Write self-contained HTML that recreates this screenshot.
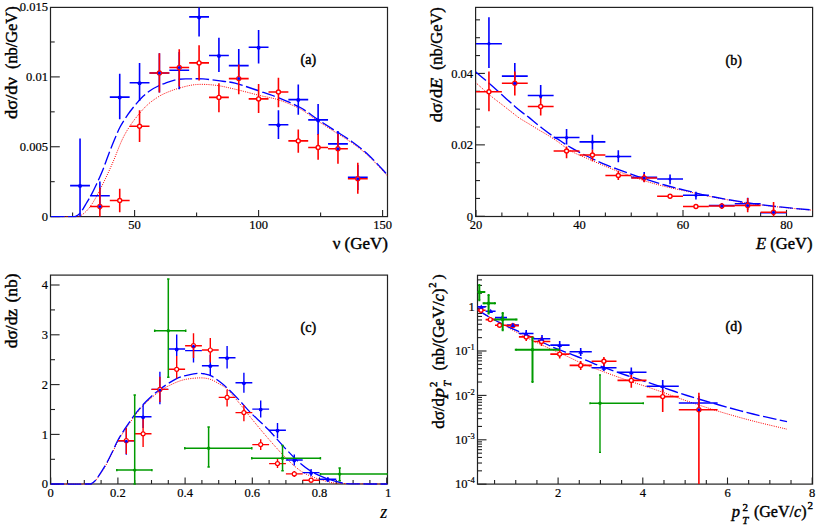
<!DOCTYPE html>
<html><head><meta charset="utf-8"><style>
html,body{margin:0;padding:0;background:#fff;}
svg{display:block;}
text{fill:#000;stroke:#000;stroke-width:0.42px;} text.tl{stroke-width:0.2px;}
</style></head><body>
<svg width="820" height="526" viewBox="0 0 820 526">
<rect width="820" height="526" fill="#fff"/>
<clipPath id="ca"><rect x="50.5" y="7.4" width="337.0" height="210.2"/></clipPath>
<rect x="50.5" y="7.4" width="337.0" height="209.2" fill="none" stroke="#222222" stroke-width="1.2"/>
<line x1="50.50" y1="216.60" x2="59.80" y2="216.60" stroke="#222222" stroke-width="1.1" />
<text x="47.90" y="220.80" font-family="Liberation Serif" font-size="12.5" text-anchor="end" font-weight="normal" font-style="normal"  class="tl">0</text>
<line x1="50.50" y1="146.75" x2="59.80" y2="146.75" stroke="#222222" stroke-width="1.1" />
<text x="47.90" y="150.95" font-family="Liberation Serif" font-size="12.5" text-anchor="end" font-weight="normal" font-style="normal"  class="tl">0.005</text>
<line x1="50.50" y1="76.90" x2="59.80" y2="76.90" stroke="#222222" stroke-width="1.1" />
<text x="47.90" y="81.10" font-family="Liberation Serif" font-size="12.5" text-anchor="end" font-weight="normal" font-style="normal"  class="tl">0.01</text>
<text x="47.90" y="11.25" font-family="Liberation Serif" font-size="12.5" text-anchor="end" font-weight="normal" font-style="normal"  class="tl">0.015</text>
<line x1="50.50" y1="181.67" x2="54.70" y2="181.67" stroke="#222222" stroke-width="1.1" />
<line x1="50.50" y1="111.83" x2="54.70" y2="111.83" stroke="#222222" stroke-width="1.1" />
<line x1="50.50" y1="41.97" x2="54.70" y2="41.97" stroke="#222222" stroke-width="1.1" />
<line x1="134.60" y1="216.60" x2="134.60" y2="210.00" stroke="#222222" stroke-width="1.1" />
<text x="134.60" y="228.60" font-family="Liberation Serif" font-size="12.5" text-anchor="middle" font-weight="normal" font-style="normal"  class="tl">50</text>
<line x1="258.60" y1="216.60" x2="258.60" y2="210.00" stroke="#222222" stroke-width="1.1" />
<text x="258.60" y="228.60" font-family="Liberation Serif" font-size="12.5" text-anchor="middle" font-weight="normal" font-style="normal"  class="tl">100</text>
<line x1="382.60" y1="216.60" x2="382.60" y2="210.00" stroke="#222222" stroke-width="1.1" />
<text x="382.60" y="228.60" font-family="Liberation Serif" font-size="12.5" text-anchor="middle" font-weight="normal" font-style="normal"  class="tl">150</text>
<line x1="72.60" y1="216.60" x2="72.60" y2="212.60" stroke="#222222" stroke-width="1.1" />
<line x1="196.60" y1="216.60" x2="196.60" y2="212.60" stroke="#222222" stroke-width="1.1" />
<line x1="320.60" y1="216.60" x2="320.60" y2="212.60" stroke="#222222" stroke-width="1.1" />
<text x="388.00" y="249.30" font-family="Liberation Serif" font-size="17" text-anchor="end" font-weight="normal" font-style="normal" >ν (GeV)</text>
<g transform="translate(17.4,119.2) rotate(-90)">
<text x="0.20" y="0.00" font-family="Liberation Serif" font-size="17" text-anchor="start" font-weight="normal" font-style="normal" textLength="41.9" lengthAdjust="spacingAndGlyphs">dσ/dν</text>
<text x="50.20" y="0.00" font-family="Liberation Serif" font-size="17" text-anchor="start" font-weight="normal" font-style="normal" textLength="62.6" lengthAdjust="spacingAndGlyphs">(nb/GeV)</text>
</g>
<text x="300.50" y="63.80" font-family="Liberation Serif" font-size="14" text-anchor="start" font-weight="normal" font-style="normal" style="stroke-width:0.45px">(a)</text>
<g clip-path="url(#ca)">
<path d="M51.00,216.60 C55.17,216.60 71.20,216.68 76.00,216.60 C80.80,216.52 78.15,216.93 79.80,216.10 C81.45,215.27 83.87,213.62 85.90,211.60 C87.93,209.58 89.97,207.05 92.00,204.00 C94.03,200.95 95.82,197.62 98.10,193.30 C100.38,188.98 103.17,183.43 105.70,178.10 C108.23,172.77 110.62,167.57 113.30,161.30 C115.98,155.03 119.12,146.25 121.80,140.50 C124.48,134.75 126.62,131.12 129.40,126.80 C132.18,122.48 135.47,118.28 138.50,114.60 C141.53,110.92 144.55,107.50 147.60,104.70 C150.65,101.90 153.90,99.70 156.80,97.80 C159.70,95.90 161.42,94.87 165.00,93.30 C168.58,91.73 173.20,89.85 178.30,88.40 C183.40,86.95 189.48,85.13 195.60,84.60 C201.72,84.07 208.43,84.43 215.00,85.20 C221.57,85.97 227.53,87.48 235.00,89.20 C242.47,90.92 252.47,93.70 259.80,95.50 C267.13,97.30 272.25,97.75 279.00,100.00 C285.75,102.25 293.95,105.58 300.30,109.00 C306.65,112.42 311.45,116.75 317.10,120.50 C322.75,124.25 328.48,127.83 334.20,131.50 C339.92,135.17 345.68,138.42 351.40,142.50 C357.12,146.58 362.47,150.42 368.50,156.00 C374.53,161.58 384.42,172.67 387.60,176.00" fill="none" stroke="#ff0000" stroke-width="1.0" stroke-dasharray="1 1.2" stroke-linecap="butt"/>
<path d="M51.00,216.60 C54.65,216.60 68.73,216.68 72.90,216.60 C77.07,216.52 74.85,216.62 76.00,216.10 C77.15,215.58 78.67,214.63 79.80,213.50 C80.93,212.37 81.68,211.05 82.80,209.30 C83.92,207.55 85.22,205.17 86.50,203.00 C87.78,200.83 88.83,199.43 90.50,196.30 C92.17,193.17 94.48,188.50 96.50,184.20 C98.52,179.90 100.68,175.20 102.60,170.50 C104.52,165.80 106.08,161.00 108.00,156.00 C109.92,151.00 112.07,145.37 114.10,140.50 C116.13,135.63 117.92,131.12 120.20,126.80 C122.48,122.48 125.25,118.28 127.80,114.60 C130.35,110.92 132.95,107.75 135.50,104.70 C138.05,101.65 140.57,98.72 143.10,96.30 C145.63,93.88 148.17,91.92 150.70,90.20 C153.23,88.48 155.92,87.15 158.30,86.00 C160.68,84.85 161.90,84.38 165.00,83.30 C168.10,82.22 172.92,80.23 176.90,79.50 C180.88,78.77 184.55,79.00 188.90,78.90 C193.25,78.80 198.12,78.60 203.00,78.90 C207.88,79.20 212.87,79.98 218.20,80.70 C223.53,81.42 228.07,81.45 235.00,83.20 C241.93,84.95 252.47,88.73 259.80,91.20 C267.13,93.67 272.25,95.28 279.00,98.00 C285.75,100.72 293.95,104.00 300.30,107.50 C306.65,111.00 311.45,115.23 317.10,119.00 C322.75,122.77 328.48,126.40 334.20,130.10 C339.92,133.80 345.68,137.07 351.40,141.20 C357.12,145.33 362.47,149.27 368.50,154.90 C374.53,160.53 384.42,171.65 387.60,175.00" fill="none" stroke="#0000ff" stroke-width="1.35" stroke-dasharray="13.5 3.5" stroke-linecap="butt"/>
<line x1="70.12" y1="185.60" x2="89.96" y2="185.60" stroke="#0000ff" stroke-width="1.6" />
<line x1="80.04" y1="138.60" x2="80.04" y2="216.60" stroke="#0000ff" stroke-width="1.6" />
<line x1="89.96" y1="195.70" x2="109.80" y2="195.70" stroke="#0000ff" stroke-width="1.6" />
<line x1="99.88" y1="181.40" x2="99.88" y2="210.00" stroke="#0000ff" stroke-width="1.6" />
<line x1="109.80" y1="97.10" x2="129.64" y2="97.10" stroke="#0000ff" stroke-width="1.6" />
<line x1="119.72" y1="73.70" x2="119.72" y2="119.30" stroke="#0000ff" stroke-width="1.6" />
<line x1="129.64" y1="82.80" x2="149.48" y2="82.80" stroke="#0000ff" stroke-width="1.6" />
<line x1="139.56" y1="63.00" x2="139.56" y2="101.00" stroke="#0000ff" stroke-width="1.6" />
<line x1="149.48" y1="73.00" x2="169.32" y2="73.00" stroke="#0000ff" stroke-width="1.6" />
<line x1="159.40" y1="53.30" x2="159.40" y2="92.60" stroke="#0000ff" stroke-width="1.6" />
<line x1="169.32" y1="70.30" x2="189.16" y2="70.30" stroke="#0000ff" stroke-width="1.6" />
<line x1="179.24" y1="52.00" x2="179.24" y2="89.20" stroke="#0000ff" stroke-width="1.6" />
<line x1="189.16" y1="16.90" x2="209.00" y2="16.90" stroke="#0000ff" stroke-width="1.6" />
<line x1="199.08" y1="5.00" x2="199.08" y2="36.60" stroke="#0000ff" stroke-width="1.6" />
<line x1="209.00" y1="55.50" x2="228.84" y2="55.50" stroke="#0000ff" stroke-width="1.6" />
<line x1="218.92" y1="37.80" x2="218.92" y2="72.10" stroke="#0000ff" stroke-width="1.6" />
<line x1="228.84" y1="65.60" x2="248.68" y2="65.60" stroke="#0000ff" stroke-width="1.6" />
<line x1="238.76" y1="49.00" x2="238.76" y2="80.00" stroke="#0000ff" stroke-width="1.6" />
<line x1="248.68" y1="47.20" x2="268.52" y2="47.20" stroke="#0000ff" stroke-width="1.6" />
<line x1="258.60" y1="30.10" x2="258.60" y2="63.50" stroke="#0000ff" stroke-width="1.6" />
<line x1="268.52" y1="124.80" x2="288.36" y2="124.80" stroke="#0000ff" stroke-width="1.6" />
<line x1="278.44" y1="110.20" x2="278.44" y2="139.10" stroke="#0000ff" stroke-width="1.6" />
<line x1="288.36" y1="99.60" x2="308.20" y2="99.60" stroke="#0000ff" stroke-width="1.6" />
<line x1="298.28" y1="84.40" x2="298.28" y2="114.80" stroke="#0000ff" stroke-width="1.6" />
<line x1="308.20" y1="119.90" x2="328.04" y2="119.90" stroke="#0000ff" stroke-width="1.6" />
<line x1="318.12" y1="104.00" x2="318.12" y2="134.90" stroke="#0000ff" stroke-width="1.6" />
<line x1="328.04" y1="143.90" x2="347.88" y2="143.90" stroke="#0000ff" stroke-width="1.6" />
<line x1="337.96" y1="130.90" x2="337.96" y2="150.00" stroke="#0000ff" stroke-width="1.6" />
<line x1="347.88" y1="177.20" x2="367.72" y2="177.20" stroke="#0000ff" stroke-width="1.6" />
<line x1="357.80" y1="165.00" x2="357.80" y2="190.00" stroke="#0000ff" stroke-width="1.6" />
<line x1="89.96" y1="206.50" x2="109.80" y2="206.50" stroke="#ff0000" stroke-width="1.6" />
<line x1="99.88" y1="187.80" x2="99.88" y2="216.60" stroke="#ff0000" stroke-width="1.6" />
<line x1="109.80" y1="200.50" x2="129.64" y2="200.50" stroke="#ff0000" stroke-width="1.6" />
<line x1="119.72" y1="188.70" x2="119.72" y2="212.20" stroke="#ff0000" stroke-width="1.6" />
<line x1="129.64" y1="126.30" x2="149.48" y2="126.30" stroke="#ff0000" stroke-width="1.6" />
<line x1="139.56" y1="110.20" x2="139.56" y2="142.10" stroke="#ff0000" stroke-width="1.6" />
<line x1="149.48" y1="73.00" x2="169.32" y2="73.00" stroke="#ff0000" stroke-width="1.6" />
<line x1="159.40" y1="53.30" x2="159.40" y2="92.60" stroke="#ff0000" stroke-width="1.6" />
<line x1="169.32" y1="67.50" x2="189.16" y2="67.50" stroke="#ff0000" stroke-width="1.6" />
<line x1="179.24" y1="49.30" x2="179.24" y2="86.60" stroke="#ff0000" stroke-width="1.6" />
<line x1="189.16" y1="62.90" x2="209.00" y2="62.90" stroke="#ff0000" stroke-width="1.6" />
<line x1="199.08" y1="45.30" x2="199.08" y2="80.60" stroke="#ff0000" stroke-width="1.6" />
<line x1="209.00" y1="97.40" x2="228.84" y2="97.40" stroke="#ff0000" stroke-width="1.6" />
<line x1="218.92" y1="83.20" x2="218.92" y2="112.30" stroke="#ff0000" stroke-width="1.6" />
<line x1="228.84" y1="78.60" x2="248.68" y2="78.60" stroke="#ff0000" stroke-width="1.6" />
<line x1="238.76" y1="64.40" x2="238.76" y2="94.30" stroke="#ff0000" stroke-width="1.6" />
<line x1="248.68" y1="98.90" x2="268.52" y2="98.90" stroke="#ff0000" stroke-width="1.6" />
<line x1="258.60" y1="84.00" x2="258.60" y2="113.10" stroke="#ff0000" stroke-width="1.6" />
<line x1="268.52" y1="92.00" x2="288.36" y2="92.00" stroke="#ff0000" stroke-width="1.6" />
<line x1="278.44" y1="77.70" x2="278.44" y2="107.20" stroke="#ff0000" stroke-width="1.6" />
<line x1="288.36" y1="140.90" x2="308.20" y2="140.90" stroke="#ff0000" stroke-width="1.6" />
<line x1="298.28" y1="129.40" x2="298.28" y2="152.80" stroke="#ff0000" stroke-width="1.6" />
<line x1="308.20" y1="147.50" x2="328.04" y2="147.50" stroke="#ff0000" stroke-width="1.6" />
<line x1="318.12" y1="133.90" x2="318.12" y2="159.80" stroke="#ff0000" stroke-width="1.6" />
<line x1="328.04" y1="148.80" x2="347.88" y2="148.80" stroke="#ff0000" stroke-width="1.6" />
<line x1="337.96" y1="133.90" x2="337.96" y2="163.80" stroke="#ff0000" stroke-width="1.6" />
<line x1="347.88" y1="178.80" x2="367.72" y2="178.80" stroke="#ff0000" stroke-width="1.6" />
<line x1="357.80" y1="162.80" x2="357.80" y2="193.70" stroke="#ff0000" stroke-width="1.6" />
<circle cx="99.88" cy="206.50" r="2.0" fill="#fff" stroke="#ff0000" stroke-width="1.4"/>
<circle cx="119.72" cy="200.50" r="2.0" fill="#fff" stroke="#ff0000" stroke-width="1.4"/>
<circle cx="139.56" cy="126.30" r="2.0" fill="#fff" stroke="#ff0000" stroke-width="1.4"/>
<circle cx="159.40" cy="73.00" r="2.0" fill="#fff" stroke="#ff0000" stroke-width="1.4"/>
<circle cx="179.24" cy="67.50" r="2.0" fill="#fff" stroke="#ff0000" stroke-width="1.4"/>
<circle cx="199.08" cy="62.90" r="2.0" fill="#fff" stroke="#ff0000" stroke-width="1.4"/>
<circle cx="218.92" cy="97.40" r="2.0" fill="#fff" stroke="#ff0000" stroke-width="1.4"/>
<circle cx="238.76" cy="78.60" r="2.0" fill="#fff" stroke="#ff0000" stroke-width="1.4"/>
<circle cx="258.60" cy="98.90" r="2.0" fill="#fff" stroke="#ff0000" stroke-width="1.4"/>
<circle cx="278.44" cy="92.00" r="2.0" fill="#fff" stroke="#ff0000" stroke-width="1.4"/>
<circle cx="298.28" cy="140.90" r="2.0" fill="#fff" stroke="#ff0000" stroke-width="1.4"/>
<circle cx="318.12" cy="147.50" r="2.0" fill="#fff" stroke="#ff0000" stroke-width="1.4"/>
<circle cx="337.96" cy="148.80" r="2.0" fill="#fff" stroke="#ff0000" stroke-width="1.4"/>
<circle cx="357.80" cy="178.80" r="2.0" fill="#fff" stroke="#ff0000" stroke-width="1.4"/>
<circle cx="80.04" cy="186.10" r="2.0" fill="#0000ff"/>
<circle cx="99.88" cy="206.50" r="1.5" fill="#0000ff"/>
<circle cx="119.72" cy="97.60" r="2.0" fill="#0000ff"/>
<circle cx="139.56" cy="83.30" r="2.0" fill="#0000ff"/>
<circle cx="159.40" cy="73.00" r="1.5" fill="#0000ff"/>
<circle cx="179.24" cy="67.50" r="1.5" fill="#0000ff"/>
<circle cx="199.08" cy="17.40" r="2.0" fill="#0000ff"/>
<circle cx="218.92" cy="56.00" r="2.0" fill="#0000ff"/>
<circle cx="238.76" cy="78.60" r="1.5" fill="#0000ff"/>
<circle cx="258.60" cy="47.70" r="2.0" fill="#0000ff"/>
<circle cx="278.44" cy="125.30" r="2.0" fill="#0000ff"/>
<circle cx="298.28" cy="100.10" r="2.0" fill="#0000ff"/>
<circle cx="318.12" cy="120.40" r="2.0" fill="#0000ff"/>
<circle cx="337.96" cy="148.80" r="1.5" fill="#0000ff"/>
<circle cx="357.80" cy="178.80" r="1.5" fill="#0000ff"/>
</g>
<clipPath id="cb"><rect x="475.6" y="7.4" width="337.0" height="210.1"/></clipPath>
<rect x="475.6" y="7.4" width="337.0" height="209.1" fill="none" stroke="#222222" stroke-width="1.2"/>
<line x1="475.60" y1="216.30" x2="484.90" y2="216.30" stroke="#222222" stroke-width="1.1" />
<text x="473.00" y="220.50" font-family="Liberation Serif" font-size="12.5" text-anchor="end" font-weight="normal" font-style="normal"  class="tl">0</text>
<line x1="475.60" y1="144.86" x2="484.90" y2="144.86" stroke="#222222" stroke-width="1.1" />
<text x="473.00" y="149.06" font-family="Liberation Serif" font-size="12.5" text-anchor="end" font-weight="normal" font-style="normal"  class="tl">0.02</text>
<line x1="475.60" y1="73.42" x2="484.90" y2="73.42" stroke="#222222" stroke-width="1.1" />
<text x="473.00" y="77.62" font-family="Liberation Serif" font-size="12.5" text-anchor="end" font-weight="normal" font-style="normal"  class="tl">0.04</text>
<line x1="475.60" y1="198.44" x2="480.00" y2="198.44" stroke="#222222" stroke-width="1.1" />
<line x1="475.60" y1="180.58" x2="480.00" y2="180.58" stroke="#222222" stroke-width="1.1" />
<line x1="475.60" y1="162.72" x2="480.00" y2="162.72" stroke="#222222" stroke-width="1.1" />
<line x1="475.60" y1="127.00" x2="480.00" y2="127.00" stroke="#222222" stroke-width="1.1" />
<line x1="475.60" y1="109.14" x2="480.00" y2="109.14" stroke="#222222" stroke-width="1.1" />
<line x1="475.60" y1="91.28" x2="480.00" y2="91.28" stroke="#222222" stroke-width="1.1" />
<line x1="475.60" y1="55.56" x2="480.00" y2="55.56" stroke="#222222" stroke-width="1.1" />
<line x1="475.60" y1="37.70" x2="480.00" y2="37.70" stroke="#222222" stroke-width="1.1" />
<line x1="475.60" y1="19.84" x2="480.00" y2="19.84" stroke="#222222" stroke-width="1.1" />
<line x1="476.00" y1="216.50" x2="476.00" y2="209.90" stroke="#222222" stroke-width="1.1" />
<text x="476.00" y="229.30" font-family="Liberation Serif" font-size="12.5" text-anchor="middle" font-weight="normal" font-style="normal"  class="tl">20</text>
<line x1="579.50" y1="216.50" x2="579.50" y2="209.90" stroke="#222222" stroke-width="1.1" />
<text x="579.50" y="229.30" font-family="Liberation Serif" font-size="12.5" text-anchor="middle" font-weight="normal" font-style="normal"  class="tl">40</text>
<line x1="683.00" y1="216.50" x2="683.00" y2="209.90" stroke="#222222" stroke-width="1.1" />
<text x="683.00" y="229.30" font-family="Liberation Serif" font-size="12.5" text-anchor="middle" font-weight="normal" font-style="normal"  class="tl">60</text>
<line x1="786.50" y1="216.50" x2="786.50" y2="209.90" stroke="#222222" stroke-width="1.1" />
<text x="786.50" y="229.30" font-family="Liberation Serif" font-size="12.5" text-anchor="middle" font-weight="normal" font-style="normal"  class="tl">80</text>
<line x1="501.88" y1="216.50" x2="501.88" y2="212.50" stroke="#222222" stroke-width="1.1" />
<line x1="527.75" y1="216.50" x2="527.75" y2="212.50" stroke="#222222" stroke-width="1.1" />
<line x1="553.62" y1="216.50" x2="553.62" y2="212.50" stroke="#222222" stroke-width="1.1" />
<line x1="605.38" y1="216.50" x2="605.38" y2="212.50" stroke="#222222" stroke-width="1.1" />
<line x1="631.25" y1="216.50" x2="631.25" y2="212.50" stroke="#222222" stroke-width="1.1" />
<line x1="657.12" y1="216.50" x2="657.12" y2="212.50" stroke="#222222" stroke-width="1.1" />
<line x1="708.88" y1="216.50" x2="708.88" y2="212.50" stroke="#222222" stroke-width="1.1" />
<line x1="734.75" y1="216.50" x2="734.75" y2="212.50" stroke="#222222" stroke-width="1.1" />
<line x1="760.62" y1="216.50" x2="760.62" y2="212.50" stroke="#222222" stroke-width="1.1" />
<text x="812.50" y="249.20" font-family="Liberation Serif" font-size="17" text-anchor="end" font-weight="normal" font-style="normal" textLength="56.4" lengthAdjust="spacingAndGlyphs"><tspan font-style="italic">E</tspan> (GeV)</text>
<g transform="translate(442.2,122.3) rotate(-90)">
<text x="0.00" y="0.00" font-family="Liberation Serif" font-size="17" text-anchor="start" font-weight="normal" font-style="normal" textLength="44.6" lengthAdjust="spacingAndGlyphs">dσ/d<tspan font-style="italic">E</tspan></text>
<text x="52.20" y="0.00" font-family="Liberation Serif" font-size="17" text-anchor="start" font-weight="normal" font-style="normal" textLength="62.9" lengthAdjust="spacingAndGlyphs">(nb/GeV)</text>
</g>
<text x="725.50" y="64.50" font-family="Liberation Serif" font-size="14" text-anchor="start" font-weight="normal" font-style="normal" >(b)</text>
<g clip-path="url(#cb)">
<path d="M475.60,82.50 C478.15,84.75 486.42,92.25 490.90,96.00 C495.38,99.75 498.35,101.77 502.50,105.00 C506.65,108.23 512.88,113.15 515.80,115.40 C518.72,117.65 517.72,117.03 520.00,118.50 C522.28,119.97 526.33,122.28 529.50,124.20 C532.67,126.12 535.83,128.10 539.00,130.00 C542.17,131.90 545.33,133.63 548.50,135.60 C551.67,137.57 555.15,139.82 558.00,141.80 C560.85,143.78 562.88,145.67 565.60,147.50 C568.32,149.33 570.48,150.88 574.30,152.80 C578.12,154.72 583.75,156.93 588.50,159.00 C593.25,161.07 597.88,163.15 602.80,165.20 C607.72,167.25 611.18,168.75 618.00,171.30 C624.82,173.85 635.93,177.98 643.70,180.50 C651.47,183.02 657.63,184.65 664.60,186.40 C671.57,188.15 677.25,189.18 685.50,191.00 C693.75,192.82 703.63,195.27 714.10,197.30 C724.57,199.33 736.92,201.52 748.30,203.20 C759.68,204.88 771.68,206.23 782.40,207.40 C793.12,208.57 807.57,209.73 812.60,210.20" fill="none" stroke="#ff0000" stroke-width="1.0" stroke-dasharray="1 1.2" stroke-linecap="butt"/>
<path d="M475.60,71.80 C477.72,73.60 483.97,78.82 488.30,82.60 C492.63,86.38 497.17,90.53 501.60,94.50 C506.03,98.47 511.17,103.18 514.90,106.40 C518.63,109.62 521.72,112.02 524.00,113.80 C526.28,115.58 525.62,114.73 528.60,117.10 C531.58,119.47 537.63,124.67 541.90,128.00 C546.17,131.33 551.35,135.12 554.20,137.10 C557.05,139.08 556.28,138.18 559.00,139.90 C561.72,141.62 566.05,144.80 570.50,147.40 C574.95,150.00 580.48,152.88 585.70,155.50 C590.92,158.12 596.42,160.78 601.80,163.10 C607.18,165.42 611.02,166.83 618.00,169.40 C624.98,171.97 635.93,175.90 643.70,178.50 C651.47,181.10 657.63,183.02 664.60,185.00 C671.57,186.98 677.25,188.40 685.50,190.40 C693.75,192.40 703.63,194.92 714.10,197.00 C724.57,199.08 736.92,201.20 748.30,202.90 C759.68,204.60 771.68,206.02 782.40,207.20 C793.12,208.38 807.57,209.53 812.60,210.00" fill="none" stroke="#0000ff" stroke-width="1.35" stroke-dasharray="13.5 3.5" stroke-linecap="butt"/>
<line x1="476.00" y1="43.70" x2="501.88" y2="43.70" stroke="#0000ff" stroke-width="1.6" />
<line x1="488.94" y1="17.30" x2="488.94" y2="68.00" stroke="#0000ff" stroke-width="1.6" />
<line x1="501.87" y1="76.10" x2="527.75" y2="76.10" stroke="#0000ff" stroke-width="1.6" />
<line x1="514.81" y1="63.00" x2="514.81" y2="80.00" stroke="#0000ff" stroke-width="1.6" />
<line x1="527.75" y1="95.50" x2="553.63" y2="95.50" stroke="#0000ff" stroke-width="1.6" />
<line x1="540.69" y1="85.10" x2="540.69" y2="99.00" stroke="#0000ff" stroke-width="1.6" />
<line x1="553.62" y1="137.50" x2="579.50" y2="137.50" stroke="#0000ff" stroke-width="1.6" />
<line x1="566.56" y1="129.00" x2="566.56" y2="144.50" stroke="#0000ff" stroke-width="1.6" />
<line x1="579.50" y1="141.90" x2="605.38" y2="141.90" stroke="#0000ff" stroke-width="1.6" />
<line x1="592.44" y1="134.70" x2="592.44" y2="149.80" stroke="#0000ff" stroke-width="1.6" />
<line x1="605.37" y1="156.50" x2="631.25" y2="156.50" stroke="#0000ff" stroke-width="1.6" />
<line x1="618.31" y1="150.20" x2="618.31" y2="162.30" stroke="#0000ff" stroke-width="1.6" />
<line x1="631.25" y1="177.40" x2="657.13" y2="177.40" stroke="#0000ff" stroke-width="1.6" />
<line x1="644.19" y1="172.00" x2="644.19" y2="182.00" stroke="#0000ff" stroke-width="1.6" />
<line x1="657.12" y1="179.00" x2="683.00" y2="179.00" stroke="#0000ff" stroke-width="1.6" />
<line x1="670.06" y1="174.40" x2="670.06" y2="184.30" stroke="#0000ff" stroke-width="1.6" />
<line x1="683.00" y1="195.30" x2="708.88" y2="195.30" stroke="#0000ff" stroke-width="1.6" />
<line x1="695.94" y1="191.80" x2="695.94" y2="199.50" stroke="#0000ff" stroke-width="1.6" />
<line x1="708.87" y1="205.50" x2="734.75" y2="205.50" stroke="#0000ff" stroke-width="1.6" />
<line x1="721.81" y1="203.00" x2="721.81" y2="208.00" stroke="#0000ff" stroke-width="1.6" />
<line x1="734.75" y1="203.80" x2="760.63" y2="203.80" stroke="#0000ff" stroke-width="1.6" />
<line x1="747.69" y1="197.80" x2="747.69" y2="210.00" stroke="#0000ff" stroke-width="1.6" />
<line x1="760.62" y1="212.80" x2="786.50" y2="212.80" stroke="#0000ff" stroke-width="1.6" />
<line x1="773.56" y1="210.00" x2="773.56" y2="215.00" stroke="#0000ff" stroke-width="1.6" />
<line x1="476.00" y1="91.80" x2="501.88" y2="91.80" stroke="#ff0000" stroke-width="1.6" />
<line x1="488.94" y1="71.50" x2="488.94" y2="111.20" stroke="#ff0000" stroke-width="1.6" />
<line x1="501.87" y1="83.30" x2="527.75" y2="83.30" stroke="#ff0000" stroke-width="1.6" />
<line x1="514.81" y1="71.50" x2="514.81" y2="95.50" stroke="#ff0000" stroke-width="1.6" />
<line x1="527.75" y1="106.50" x2="553.63" y2="106.50" stroke="#ff0000" stroke-width="1.6" />
<line x1="540.69" y1="97.60" x2="540.69" y2="115.40" stroke="#ff0000" stroke-width="1.6" />
<line x1="553.62" y1="151.00" x2="579.50" y2="151.00" stroke="#ff0000" stroke-width="1.6" />
<line x1="566.56" y1="146.60" x2="566.56" y2="158.20" stroke="#ff0000" stroke-width="1.6" />
<line x1="579.50" y1="155.00" x2="605.38" y2="155.00" stroke="#ff0000" stroke-width="1.6" />
<line x1="592.44" y1="149.80" x2="592.44" y2="161.30" stroke="#ff0000" stroke-width="1.6" />
<line x1="605.37" y1="175.50" x2="631.25" y2="175.50" stroke="#ff0000" stroke-width="1.6" />
<line x1="618.31" y1="170.70" x2="618.31" y2="180.10" stroke="#ff0000" stroke-width="1.6" />
<line x1="631.25" y1="178.00" x2="657.13" y2="178.00" stroke="#ff0000" stroke-width="1.6" />
<line x1="644.19" y1="174.00" x2="644.19" y2="182.20" stroke="#ff0000" stroke-width="1.6" />
<line x1="657.12" y1="196.20" x2="683.00" y2="196.20" stroke="#ff0000" stroke-width="1.6" />
<line x1="670.06" y1="194.00" x2="670.06" y2="198.50" stroke="#ff0000" stroke-width="1.6" />
<line x1="683.00" y1="206.50" x2="708.88" y2="206.50" stroke="#ff0000" stroke-width="1.6" />
<line x1="695.94" y1="205.00" x2="695.94" y2="208.00" stroke="#ff0000" stroke-width="1.6" />
<line x1="708.87" y1="206.00" x2="734.75" y2="206.00" stroke="#ff0000" stroke-width="1.6" />
<line x1="721.81" y1="203.50" x2="721.81" y2="209.00" stroke="#ff0000" stroke-width="1.6" />
<line x1="734.75" y1="205.50" x2="760.63" y2="205.50" stroke="#ff0000" stroke-width="1.6" />
<line x1="747.69" y1="198.00" x2="747.69" y2="212.30" stroke="#ff0000" stroke-width="1.6" />
<line x1="760.62" y1="212.30" x2="786.50" y2="212.30" stroke="#ff0000" stroke-width="1.6" />
<line x1="773.56" y1="202.00" x2="773.56" y2="216.50" stroke="#ff0000" stroke-width="1.6" />
<circle cx="488.94" cy="91.80" r="2.0" fill="#fff" stroke="#ff0000" stroke-width="1.4"/>
<circle cx="514.81" cy="83.30" r="2.0" fill="#fff" stroke="#ff0000" stroke-width="1.4"/>
<circle cx="540.69" cy="106.50" r="2.0" fill="#fff" stroke="#ff0000" stroke-width="1.4"/>
<circle cx="566.56" cy="151.00" r="2.0" fill="#fff" stroke="#ff0000" stroke-width="1.4"/>
<circle cx="592.44" cy="155.00" r="2.0" fill="#fff" stroke="#ff0000" stroke-width="1.4"/>
<circle cx="618.31" cy="175.50" r="2.0" fill="#fff" stroke="#ff0000" stroke-width="1.4"/>
<circle cx="644.19" cy="178.00" r="2.0" fill="#fff" stroke="#ff0000" stroke-width="1.4"/>
<circle cx="670.06" cy="196.20" r="2.0" fill="#fff" stroke="#ff0000" stroke-width="1.4"/>
<circle cx="695.94" cy="206.50" r="2.0" fill="#fff" stroke="#ff0000" stroke-width="1.4"/>
<circle cx="721.81" cy="206.00" r="2.0" fill="#fff" stroke="#ff0000" stroke-width="1.4"/>
<circle cx="747.69" cy="205.50" r="2.0" fill="#fff" stroke="#ff0000" stroke-width="1.4"/>
<circle cx="773.56" cy="212.30" r="2.0" fill="#fff" stroke="#ff0000" stroke-width="1.4"/>
<circle cx="488.94" cy="43.70" r="1.6" fill="#0000ff"/>
<circle cx="514.81" cy="83.30" r="1.6" fill="#0000ff"/>
<circle cx="540.69" cy="96.50" r="1.6" fill="#0000ff"/>
<circle cx="566.56" cy="137.70" r="1.6" fill="#0000ff"/>
<circle cx="592.44" cy="141.90" r="1.6" fill="#0000ff"/>
<circle cx="618.31" cy="156.50" r="1.6" fill="#0000ff"/>
<circle cx="644.19" cy="178.00" r="1.6" fill="#0000ff"/>
<circle cx="670.06" cy="179.00" r="1.6" fill="#0000ff"/>
<circle cx="695.94" cy="195.30" r="1.6" fill="#0000ff"/>
<circle cx="721.81" cy="206.00" r="1.6" fill="#0000ff"/>
<circle cx="747.69" cy="205.50" r="1.6" fill="#0000ff"/>
<circle cx="773.56" cy="212.30" r="1.6" fill="#0000ff"/>
</g>
<clipPath id="cc"><rect x="50.5" y="275.1" width="337.0" height="209.89999999999998"/></clipPath>
<rect x="50.5" y="275.1" width="337.0" height="208.89999999999998" fill="none" stroke="#222222" stroke-width="1.2"/>
<line x1="50.50" y1="484.20" x2="59.60" y2="484.20" stroke="#222222" stroke-width="1.1" />
<text x="47.90" y="488.40" font-family="Liberation Serif" font-size="12.5" text-anchor="end" font-weight="normal" font-style="normal"  class="tl">0</text>
<line x1="50.50" y1="434.40" x2="59.60" y2="434.40" stroke="#222222" stroke-width="1.1" />
<text x="47.90" y="438.60" font-family="Liberation Serif" font-size="12.5" text-anchor="end" font-weight="normal" font-style="normal"  class="tl">1</text>
<line x1="50.50" y1="384.60" x2="59.60" y2="384.60" stroke="#222222" stroke-width="1.1" />
<text x="47.90" y="388.80" font-family="Liberation Serif" font-size="12.5" text-anchor="end" font-weight="normal" font-style="normal"  class="tl">2</text>
<line x1="50.50" y1="334.80" x2="59.60" y2="334.80" stroke="#222222" stroke-width="1.1" />
<text x="47.90" y="339.00" font-family="Liberation Serif" font-size="12.5" text-anchor="end" font-weight="normal" font-style="normal"  class="tl">3</text>
<line x1="50.50" y1="285.00" x2="59.60" y2="285.00" stroke="#222222" stroke-width="1.1" />
<text x="47.90" y="289.20" font-family="Liberation Serif" font-size="12.5" text-anchor="end" font-weight="normal" font-style="normal"  class="tl">4</text>
<line x1="50.50" y1="459.30" x2="55.00" y2="459.30" stroke="#222222" stroke-width="1.1" />
<line x1="50.50" y1="409.50" x2="55.00" y2="409.50" stroke="#222222" stroke-width="1.1" />
<line x1="50.50" y1="359.70" x2="55.00" y2="359.70" stroke="#222222" stroke-width="1.1" />
<line x1="50.50" y1="309.90" x2="55.00" y2="309.90" stroke="#222222" stroke-width="1.1" />
<line x1="50.70" y1="484.00" x2="50.70" y2="477.40" stroke="#222222" stroke-width="1.1" />
<text x="50.70" y="496.50" font-family="Liberation Serif" font-size="12.5" text-anchor="middle" font-weight="normal" font-style="normal"  class="tl">0</text>
<line x1="117.90" y1="484.00" x2="117.90" y2="477.40" stroke="#222222" stroke-width="1.1" />
<text x="117.90" y="496.50" font-family="Liberation Serif" font-size="12.5" text-anchor="middle" font-weight="normal" font-style="normal"  class="tl">0.2</text>
<line x1="185.10" y1="484.00" x2="185.10" y2="477.40" stroke="#222222" stroke-width="1.1" />
<text x="185.10" y="496.50" font-family="Liberation Serif" font-size="12.5" text-anchor="middle" font-weight="normal" font-style="normal"  class="tl">0.4</text>
<line x1="252.30" y1="484.00" x2="252.30" y2="477.40" stroke="#222222" stroke-width="1.1" />
<text x="252.30" y="496.50" font-family="Liberation Serif" font-size="12.5" text-anchor="middle" font-weight="normal" font-style="normal"  class="tl">0.6</text>
<line x1="319.50" y1="484.00" x2="319.50" y2="477.40" stroke="#222222" stroke-width="1.1" />
<text x="319.50" y="496.50" font-family="Liberation Serif" font-size="12.5" text-anchor="middle" font-weight="normal" font-style="normal"  class="tl">0.8</text>
<line x1="386.70" y1="484.00" x2="386.70" y2="477.40" stroke="#222222" stroke-width="1.1" />
<text x="388.20" y="496.50" font-family="Liberation Serif" font-size="12.5" text-anchor="middle" font-weight="normal" font-style="normal"  class="tl">1</text>
<line x1="67.50" y1="484.00" x2="67.50" y2="480.00" stroke="#222222" stroke-width="1.1" />
<line x1="84.30" y1="484.00" x2="84.30" y2="480.00" stroke="#222222" stroke-width="1.1" />
<line x1="101.10" y1="484.00" x2="101.10" y2="480.00" stroke="#222222" stroke-width="1.1" />
<line x1="134.70" y1="484.00" x2="134.70" y2="480.00" stroke="#222222" stroke-width="1.1" />
<line x1="151.50" y1="484.00" x2="151.50" y2="480.00" stroke="#222222" stroke-width="1.1" />
<line x1="168.30" y1="484.00" x2="168.30" y2="480.00" stroke="#222222" stroke-width="1.1" />
<line x1="201.90" y1="484.00" x2="201.90" y2="480.00" stroke="#222222" stroke-width="1.1" />
<line x1="218.70" y1="484.00" x2="218.70" y2="480.00" stroke="#222222" stroke-width="1.1" />
<line x1="235.50" y1="484.00" x2="235.50" y2="480.00" stroke="#222222" stroke-width="1.1" />
<line x1="269.10" y1="484.00" x2="269.10" y2="480.00" stroke="#222222" stroke-width="1.1" />
<line x1="285.90" y1="484.00" x2="285.90" y2="480.00" stroke="#222222" stroke-width="1.1" />
<line x1="302.70" y1="484.00" x2="302.70" y2="480.00" stroke="#222222" stroke-width="1.1" />
<line x1="336.30" y1="484.00" x2="336.30" y2="480.00" stroke="#222222" stroke-width="1.1" />
<line x1="353.10" y1="484.00" x2="353.10" y2="480.00" stroke="#222222" stroke-width="1.1" />
<line x1="369.90" y1="484.00" x2="369.90" y2="480.00" stroke="#222222" stroke-width="1.1" />
<text x="387.20" y="518.20" font-family="Liberation Serif" font-size="18" text-anchor="end" font-weight="normal" font-style="italic" style="stroke-width:0.15px">z</text>
<g transform="translate(17.2,348) rotate(-90)">
<text x="-0.30" y="0.00" font-family="Liberation Serif" font-size="17" text-anchor="start" font-weight="normal" font-style="normal" textLength="39.4" lengthAdjust="spacingAndGlyphs">dσ/dz</text>
<text x="45.60" y="0.00" font-family="Liberation Serif" font-size="17" text-anchor="start" font-weight="normal" font-style="normal" textLength="28.8" lengthAdjust="spacingAndGlyphs">(nb)</text>
</g>
<text x="300.60" y="331.90" font-family="Liberation Serif" font-size="14" text-anchor="start" font-weight="normal" font-style="normal" style="stroke-width:0.45px">(c)</text>
<g clip-path="url(#cc)">
<path d="M50.70,484.00 C56.92,484.00 81.18,484.05 88.00,484.00 C94.82,483.95 90.45,484.13 91.60,483.70 C92.75,483.27 93.90,482.35 94.90,481.40 C95.90,480.45 96.48,479.53 97.60,478.00 C98.72,476.47 100.05,474.62 101.60,472.20 C103.15,469.78 105.13,466.67 106.90,463.50 C108.67,460.33 110.43,456.78 112.20,453.20 C113.97,449.62 115.72,445.37 117.50,442.00 C119.28,438.63 121.12,435.80 122.90,433.00 C124.68,430.20 125.87,428.53 128.20,425.20 C130.53,421.87 133.80,416.87 136.90,413.00 C140.00,409.13 142.95,405.67 146.80,402.00 C150.65,398.33 156.13,393.80 160.00,391.00 C163.87,388.20 166.12,387.05 170.00,385.20 C173.88,383.35 178.42,381.12 183.30,379.90 C188.18,378.68 194.87,378.02 199.30,377.90 C203.73,377.78 206.58,378.20 209.90,379.20 C213.22,380.20 216.32,382.23 219.20,383.90 C222.08,385.57 223.73,385.85 227.20,389.20 C230.67,392.55 236.20,399.42 240.00,404.00 C243.80,408.58 245.33,410.98 250.00,416.70 C254.67,422.42 261.98,431.38 268.00,438.30 C274.02,445.22 280.68,452.78 286.10,458.20 C291.52,463.62 295.98,467.65 300.50,470.80 C305.02,473.95 308.68,475.30 313.20,477.10 C317.72,478.90 323.08,480.55 327.60,481.60 C332.12,482.65 330.32,483.00 340.30,483.40 C350.28,483.80 379.63,483.90 387.50,484.00" fill="none" stroke="#ff0000" stroke-width="1.0" stroke-dasharray="1 1.2" stroke-linecap="butt"/>
<path d="M50.70,484.00 C56.83,484.00 80.73,484.07 87.50,484.00 C94.27,483.93 90.12,484.07 91.30,483.60 C92.48,483.13 93.60,482.17 94.60,481.20 C95.60,480.23 96.18,479.35 97.30,477.80 C98.42,476.25 99.75,474.33 101.30,471.90 C102.85,469.47 104.83,466.38 106.60,463.20 C108.37,460.02 110.13,456.42 111.90,452.80 C113.67,449.18 115.42,444.92 117.20,441.50 C118.98,438.08 120.82,435.17 122.60,432.30 C124.38,429.43 125.52,427.70 127.90,424.30 C130.28,420.90 133.75,415.82 136.90,411.90 C140.05,407.98 142.95,404.58 146.80,400.80 C150.65,397.02 155.03,392.90 160.00,389.20 C164.97,385.50 171.60,381.03 176.60,378.60 C181.60,376.17 186.22,375.48 190.00,374.60 C193.78,373.72 196.87,373.42 199.30,373.30 C201.73,373.18 202.62,373.47 204.60,373.90 C206.58,374.33 208.77,374.68 211.20,375.90 C213.63,377.12 216.42,379.08 219.20,381.20 C221.98,383.32 224.43,385.30 227.90,388.60 C231.37,391.90 236.32,397.08 240.00,401.00 C243.68,404.92 245.33,407.38 250.00,412.10 C254.67,416.82 261.98,423.12 268.00,429.30 C274.02,435.48 280.68,443.48 286.10,449.20 C291.52,454.92 295.98,459.70 300.50,463.60 C305.02,467.50 308.68,470.05 313.20,472.60 C317.72,475.15 323.08,477.25 327.60,478.90 C332.12,480.55 336.57,481.68 340.30,482.50 C344.03,483.32 342.13,483.55 350.00,483.80 C357.87,484.05 381.25,483.97 387.50,484.00" fill="none" stroke="#0000ff" stroke-width="1.3" stroke-dasharray="13.5 3.5" stroke-linecap="butt"/>
<line x1="117.90" y1="440.70" x2="134.70" y2="440.70" stroke="#0000ff" stroke-width="1.4" />
<line x1="126.30" y1="428.00" x2="126.30" y2="454.70" stroke="#0000ff" stroke-width="1.4" />
<line x1="134.70" y1="416.80" x2="151.50" y2="416.80" stroke="#0000ff" stroke-width="1.4" />
<line x1="143.10" y1="405.10" x2="143.10" y2="428.00" stroke="#0000ff" stroke-width="1.4" />
<line x1="151.50" y1="389.40" x2="168.30" y2="389.40" stroke="#0000ff" stroke-width="1.4" />
<line x1="159.90" y1="371.80" x2="159.90" y2="404.20" stroke="#0000ff" stroke-width="1.4" />
<line x1="168.30" y1="349.00" x2="185.10" y2="349.00" stroke="#0000ff" stroke-width="1.4" />
<line x1="176.70" y1="334.60" x2="176.70" y2="356.00" stroke="#0000ff" stroke-width="1.4" />
<line x1="185.10" y1="350.60" x2="201.90" y2="350.60" stroke="#0000ff" stroke-width="1.4" />
<line x1="193.50" y1="344.00" x2="193.50" y2="362.60" stroke="#0000ff" stroke-width="1.4" />
<line x1="201.90" y1="365.70" x2="218.70" y2="365.70" stroke="#0000ff" stroke-width="1.4" />
<line x1="210.30" y1="355.00" x2="210.30" y2="376.00" stroke="#0000ff" stroke-width="1.4" />
<line x1="218.70" y1="357.70" x2="235.50" y2="357.70" stroke="#0000ff" stroke-width="1.4" />
<line x1="227.10" y1="346.00" x2="227.10" y2="368.60" stroke="#0000ff" stroke-width="1.4" />
<line x1="235.50" y1="382.80" x2="252.30" y2="382.80" stroke="#0000ff" stroke-width="1.4" />
<line x1="243.90" y1="372.80" x2="243.90" y2="392.80" stroke="#0000ff" stroke-width="1.4" />
<line x1="252.30" y1="409.10" x2="269.10" y2="409.10" stroke="#0000ff" stroke-width="1.4" />
<line x1="260.70" y1="400.40" x2="260.70" y2="417.60" stroke="#0000ff" stroke-width="1.4" />
<line x1="269.10" y1="430.20" x2="285.90" y2="430.20" stroke="#0000ff" stroke-width="1.4" />
<line x1="277.50" y1="423.00" x2="277.50" y2="438.30" stroke="#0000ff" stroke-width="1.4" />
<line x1="285.90" y1="460.00" x2="302.70" y2="460.00" stroke="#0000ff" stroke-width="1.4" />
<line x1="294.30" y1="454.60" x2="294.30" y2="465.40" stroke="#0000ff" stroke-width="1.4" />
<line x1="302.70" y1="472.60" x2="319.50" y2="472.60" stroke="#0000ff" stroke-width="1.4" />
<line x1="311.10" y1="469.00" x2="311.10" y2="476.20" stroke="#0000ff" stroke-width="1.4" />
<line x1="319.50" y1="479.30" x2="336.30" y2="479.30" stroke="#0000ff" stroke-width="1.4" />
<line x1="327.90" y1="477.00" x2="327.90" y2="482.00" stroke="#0000ff" stroke-width="1.4" />
<line x1="117.90" y1="440.70" x2="134.70" y2="440.70" stroke="#ff0000" stroke-width="1.4" />
<line x1="126.30" y1="428.20" x2="126.30" y2="454.00" stroke="#ff0000" stroke-width="1.4" />
<line x1="134.70" y1="433.80" x2="151.50" y2="433.80" stroke="#ff0000" stroke-width="1.4" />
<line x1="143.10" y1="417.00" x2="143.10" y2="447.00" stroke="#ff0000" stroke-width="1.4" />
<line x1="151.50" y1="389.40" x2="168.30" y2="389.40" stroke="#ff0000" stroke-width="1.4" />
<line x1="159.90" y1="376.80" x2="159.90" y2="401.90" stroke="#ff0000" stroke-width="1.4" />
<line x1="168.30" y1="369.30" x2="185.10" y2="369.30" stroke="#ff0000" stroke-width="1.4" />
<line x1="176.70" y1="356.00" x2="176.70" y2="378.60" stroke="#ff0000" stroke-width="1.4" />
<line x1="185.10" y1="345.70" x2="201.90" y2="345.70" stroke="#ff0000" stroke-width="1.4" />
<line x1="193.50" y1="333.30" x2="193.50" y2="358.00" stroke="#ff0000" stroke-width="1.4" />
<line x1="201.90" y1="350.00" x2="218.70" y2="350.00" stroke="#ff0000" stroke-width="1.4" />
<line x1="210.30" y1="338.00" x2="210.30" y2="362.60" stroke="#ff0000" stroke-width="1.4" />
<line x1="218.70" y1="397.40" x2="235.50" y2="397.40" stroke="#ff0000" stroke-width="1.4" />
<line x1="227.10" y1="389.40" x2="227.10" y2="406.50" stroke="#ff0000" stroke-width="1.4" />
<line x1="235.50" y1="412.60" x2="252.30" y2="412.60" stroke="#ff0000" stroke-width="1.4" />
<line x1="243.90" y1="405.00" x2="243.90" y2="421.30" stroke="#ff0000" stroke-width="1.4" />
<line x1="252.30" y1="444.60" x2="269.10" y2="444.60" stroke="#ff0000" stroke-width="1.4" />
<line x1="260.70" y1="439.20" x2="260.70" y2="450.10" stroke="#ff0000" stroke-width="1.4" />
<line x1="269.10" y1="463.60" x2="285.90" y2="463.60" stroke="#ff0000" stroke-width="1.4" />
<line x1="277.50" y1="459.00" x2="277.50" y2="468.00" stroke="#ff0000" stroke-width="1.4" />
<line x1="285.90" y1="473.90" x2="302.70" y2="473.90" stroke="#ff0000" stroke-width="1.4" />
<line x1="294.30" y1="471.00" x2="294.30" y2="477.00" stroke="#ff0000" stroke-width="1.4" />
<line x1="302.70" y1="480.20" x2="319.50" y2="480.20" stroke="#ff0000" stroke-width="1.4" />
<line x1="311.10" y1="478.00" x2="311.10" y2="483.00" stroke="#ff0000" stroke-width="1.4" />
<circle cx="126.30" cy="440.70" r="2.0" fill="#fff" stroke="#ff0000" stroke-width="1.2"/>
<circle cx="143.10" cy="433.80" r="2.0" fill="#fff" stroke="#ff0000" stroke-width="1.2"/>
<circle cx="159.90" cy="389.40" r="2.0" fill="#fff" stroke="#ff0000" stroke-width="1.2"/>
<circle cx="176.70" cy="369.30" r="2.0" fill="#fff" stroke="#ff0000" stroke-width="1.2"/>
<circle cx="193.50" cy="345.70" r="2.0" fill="#fff" stroke="#ff0000" stroke-width="1.2"/>
<circle cx="210.30" cy="350.00" r="2.0" fill="#fff" stroke="#ff0000" stroke-width="1.2"/>
<circle cx="227.10" cy="397.40" r="2.0" fill="#fff" stroke="#ff0000" stroke-width="1.2"/>
<circle cx="243.90" cy="412.60" r="2.0" fill="#fff" stroke="#ff0000" stroke-width="1.2"/>
<circle cx="260.70" cy="444.60" r="2.0" fill="#fff" stroke="#ff0000" stroke-width="1.2"/>
<circle cx="277.50" cy="463.60" r="2.0" fill="#fff" stroke="#ff0000" stroke-width="1.2"/>
<circle cx="294.30" cy="473.90" r="2.0" fill="#fff" stroke="#ff0000" stroke-width="1.2"/>
<circle cx="311.10" cy="480.20" r="2.0" fill="#fff" stroke="#ff0000" stroke-width="1.2"/>
<circle cx="126.30" cy="441.20" r="1.5" fill="#0000ff"/>
<circle cx="143.10" cy="417.30" r="1.9" fill="#0000ff"/>
<circle cx="159.90" cy="389.90" r="1.5" fill="#0000ff"/>
<circle cx="176.70" cy="349.50" r="1.9" fill="#0000ff"/>
<circle cx="193.50" cy="346.20" r="1.5" fill="#0000ff"/>
<circle cx="210.30" cy="366.20" r="1.9" fill="#0000ff"/>
<circle cx="227.10" cy="358.20" r="1.9" fill="#0000ff"/>
<circle cx="243.90" cy="383.30" r="1.9" fill="#0000ff"/>
<circle cx="260.70" cy="409.60" r="1.9" fill="#0000ff"/>
<circle cx="277.50" cy="430.70" r="1.9" fill="#0000ff"/>
<circle cx="294.30" cy="460.50" r="1.9" fill="#0000ff"/>
<circle cx="311.10" cy="473.10" r="1.9" fill="#0000ff"/>
<circle cx="327.90" cy="479.80" r="1.9" fill="#0000ff"/>
<line x1="116.80" y1="470.10" x2="151.90" y2="470.10" stroke="#009a00" stroke-width="1.5" />
<line x1="134.70" y1="395.00" x2="134.70" y2="484.00" stroke="#009a00" stroke-width="1.5" />
<line x1="116.80" y1="468.90" x2="116.80" y2="471.30" stroke="#009a00" stroke-width="1.5" />
<line x1="151.90" y1="468.90" x2="151.90" y2="471.30" stroke="#009a00" stroke-width="1.5" />
<line x1="133.50" y1="395.00" x2="135.90" y2="395.00" stroke="#009a00" stroke-width="1.5" />
<line x1="133.50" y1="484.00" x2="135.90" y2="484.00" stroke="#009a00" stroke-width="1.5" />
<circle cx="134.70" cy="470.10" r="1.7" fill="#009a00"/>
<line x1="154.70" y1="330.70" x2="185.70" y2="330.70" stroke="#009a00" stroke-width="1.5" />
<line x1="168.30" y1="279.10" x2="168.30" y2="377.20" stroke="#009a00" stroke-width="1.5" />
<line x1="154.70" y1="329.50" x2="154.70" y2="331.90" stroke="#009a00" stroke-width="1.5" />
<line x1="185.70" y1="329.50" x2="185.70" y2="331.90" stroke="#009a00" stroke-width="1.5" />
<line x1="167.10" y1="279.10" x2="169.50" y2="279.10" stroke="#009a00" stroke-width="1.5" />
<line x1="167.10" y1="377.20" x2="169.50" y2="377.20" stroke="#009a00" stroke-width="1.5" />
<circle cx="168.30" cy="330.70" r="1.7" fill="#009a00"/>
<line x1="184.80" y1="448.20" x2="251.80" y2="448.20" stroke="#009a00" stroke-width="1.5" />
<line x1="208.62" y1="427.00" x2="208.62" y2="466.90" stroke="#009a00" stroke-width="1.5" />
<line x1="184.80" y1="447.00" x2="184.80" y2="449.40" stroke="#009a00" stroke-width="1.5" />
<line x1="251.80" y1="447.00" x2="251.80" y2="449.40" stroke="#009a00" stroke-width="1.5" />
<line x1="207.42" y1="427.00" x2="209.82" y2="427.00" stroke="#009a00" stroke-width="1.5" />
<line x1="207.42" y1="466.90" x2="209.82" y2="466.90" stroke="#009a00" stroke-width="1.5" />
<circle cx="208.62" cy="448.20" r="1.7" fill="#009a00"/>
<line x1="251.80" y1="458.20" x2="320.40" y2="458.20" stroke="#009a00" stroke-width="1.5" />
<line x1="282.54" y1="445.50" x2="282.54" y2="470.80" stroke="#009a00" stroke-width="1.5" />
<line x1="251.80" y1="457.00" x2="251.80" y2="459.40" stroke="#009a00" stroke-width="1.5" />
<line x1="320.40" y1="457.00" x2="320.40" y2="459.40" stroke="#009a00" stroke-width="1.5" />
<line x1="281.34" y1="445.50" x2="283.74" y2="445.50" stroke="#009a00" stroke-width="1.5" />
<line x1="281.34" y1="470.80" x2="283.74" y2="470.80" stroke="#009a00" stroke-width="1.5" />
<circle cx="282.54" cy="458.20" r="1.7" fill="#009a00"/>
<line x1="320.40" y1="474.10" x2="387.50" y2="474.10" stroke="#009a00" stroke-width="1.5" />
<line x1="339.66" y1="468.10" x2="339.66" y2="480.70" stroke="#009a00" stroke-width="1.5" />
<line x1="320.40" y1="472.90" x2="320.40" y2="475.30" stroke="#009a00" stroke-width="1.5" />
<line x1="387.50" y1="472.90" x2="387.50" y2="475.30" stroke="#009a00" stroke-width="1.5" />
<line x1="338.46" y1="468.10" x2="340.86" y2="468.10" stroke="#009a00" stroke-width="1.5" />
<line x1="338.46" y1="480.70" x2="340.86" y2="480.70" stroke="#009a00" stroke-width="1.5" />
<circle cx="339.66" cy="474.10" r="1.7" fill="#009a00"/>
</g>
<clipPath id="cd"><rect x="477.5" y="275.3" width="335.1" height="208.8"/></clipPath>
<rect x="477.5" y="275.3" width="335.1" height="208.8" fill="none" stroke="#222222" stroke-width="1.2"/>
<line x1="477.50" y1="484.20" x2="486.50" y2="484.20" stroke="#222222" stroke-width="1.1" />
<text x="474.70" y="488.40" font-family="Liberation Serif" font-size="12.5" text-anchor="end" font-weight="normal" font-style="normal"  class="tl">10<tspan dy="-5" font-size="8.5">-4</tspan></text>
<line x1="477.50" y1="439.80" x2="486.50" y2="439.80" stroke="#222222" stroke-width="1.1" />
<text x="474.70" y="444.00" font-family="Liberation Serif" font-size="12.5" text-anchor="end" font-weight="normal" font-style="normal"  class="tl">10<tspan dy="-5" font-size="8.5">-3</tspan></text>
<line x1="477.50" y1="395.40" x2="486.50" y2="395.40" stroke="#222222" stroke-width="1.1" />
<text x="474.70" y="399.60" font-family="Liberation Serif" font-size="12.5" text-anchor="end" font-weight="normal" font-style="normal"  class="tl">10<tspan dy="-5" font-size="8.5">-2</tspan></text>
<line x1="477.50" y1="351.00" x2="486.50" y2="351.00" stroke="#222222" stroke-width="1.1" />
<text x="474.70" y="355.20" font-family="Liberation Serif" font-size="12.5" text-anchor="end" font-weight="normal" font-style="normal"  class="tl">10<tspan dy="-5" font-size="8.5">-1</tspan></text>
<line x1="477.50" y1="306.60" x2="486.50" y2="306.60" stroke="#222222" stroke-width="1.1" />
<text x="474.70" y="310.80" font-family="Liberation Serif" font-size="12.5" text-anchor="end" font-weight="normal" font-style="normal"  class="tl">1</text>
<line x1="477.50" y1="470.83" x2="482.00" y2="470.83" stroke="#222222" stroke-width="1.1" />
<line x1="477.50" y1="463.02" x2="482.00" y2="463.02" stroke="#222222" stroke-width="1.1" />
<line x1="477.50" y1="457.47" x2="482.00" y2="457.47" stroke="#222222" stroke-width="1.1" />
<line x1="477.50" y1="453.17" x2="482.00" y2="453.17" stroke="#222222" stroke-width="1.1" />
<line x1="477.50" y1="449.65" x2="482.00" y2="449.65" stroke="#222222" stroke-width="1.1" />
<line x1="477.50" y1="446.68" x2="482.00" y2="446.68" stroke="#222222" stroke-width="1.1" />
<line x1="477.50" y1="444.10" x2="482.00" y2="444.10" stroke="#222222" stroke-width="1.1" />
<line x1="477.50" y1="441.83" x2="482.00" y2="441.83" stroke="#222222" stroke-width="1.1" />
<line x1="477.50" y1="426.43" x2="482.00" y2="426.43" stroke="#222222" stroke-width="1.1" />
<line x1="477.50" y1="418.62" x2="482.00" y2="418.62" stroke="#222222" stroke-width="1.1" />
<line x1="477.50" y1="413.07" x2="482.00" y2="413.07" stroke="#222222" stroke-width="1.1" />
<line x1="477.50" y1="408.77" x2="482.00" y2="408.77" stroke="#222222" stroke-width="1.1" />
<line x1="477.50" y1="405.25" x2="482.00" y2="405.25" stroke="#222222" stroke-width="1.1" />
<line x1="477.50" y1="402.28" x2="482.00" y2="402.28" stroke="#222222" stroke-width="1.1" />
<line x1="477.50" y1="399.70" x2="482.00" y2="399.70" stroke="#222222" stroke-width="1.1" />
<line x1="477.50" y1="397.43" x2="482.00" y2="397.43" stroke="#222222" stroke-width="1.1" />
<line x1="477.50" y1="382.03" x2="482.00" y2="382.03" stroke="#222222" stroke-width="1.1" />
<line x1="477.50" y1="374.22" x2="482.00" y2="374.22" stroke="#222222" stroke-width="1.1" />
<line x1="477.50" y1="368.67" x2="482.00" y2="368.67" stroke="#222222" stroke-width="1.1" />
<line x1="477.50" y1="364.37" x2="482.00" y2="364.37" stroke="#222222" stroke-width="1.1" />
<line x1="477.50" y1="360.85" x2="482.00" y2="360.85" stroke="#222222" stroke-width="1.1" />
<line x1="477.50" y1="357.88" x2="482.00" y2="357.88" stroke="#222222" stroke-width="1.1" />
<line x1="477.50" y1="355.30" x2="482.00" y2="355.30" stroke="#222222" stroke-width="1.1" />
<line x1="477.50" y1="353.03" x2="482.00" y2="353.03" stroke="#222222" stroke-width="1.1" />
<line x1="477.50" y1="337.63" x2="482.00" y2="337.63" stroke="#222222" stroke-width="1.1" />
<line x1="477.50" y1="329.82" x2="482.00" y2="329.82" stroke="#222222" stroke-width="1.1" />
<line x1="477.50" y1="324.27" x2="482.00" y2="324.27" stroke="#222222" stroke-width="1.1" />
<line x1="477.50" y1="319.97" x2="482.00" y2="319.97" stroke="#222222" stroke-width="1.1" />
<line x1="477.50" y1="316.45" x2="482.00" y2="316.45" stroke="#222222" stroke-width="1.1" />
<line x1="477.50" y1="313.48" x2="482.00" y2="313.48" stroke="#222222" stroke-width="1.1" />
<line x1="477.50" y1="310.90" x2="482.00" y2="310.90" stroke="#222222" stroke-width="1.1" />
<line x1="477.50" y1="308.63" x2="482.00" y2="308.63" stroke="#222222" stroke-width="1.1" />
<line x1="477.50" y1="293.23" x2="482.00" y2="293.23" stroke="#222222" stroke-width="1.1" />
<line x1="477.50" y1="285.42" x2="482.00" y2="285.42" stroke="#222222" stroke-width="1.1" />
<line x1="477.50" y1="279.87" x2="482.00" y2="279.87" stroke="#222222" stroke-width="1.1" />
<line x1="558.10" y1="484.10" x2="558.10" y2="477.50" stroke="#222222" stroke-width="1.1" />
<text x="558.10" y="496.60" font-family="Liberation Serif" font-size="12.5" text-anchor="middle" font-weight="normal" font-style="normal"  class="tl">2</text>
<line x1="642.80" y1="484.10" x2="642.80" y2="477.50" stroke="#222222" stroke-width="1.1" />
<text x="642.80" y="496.60" font-family="Liberation Serif" font-size="12.5" text-anchor="middle" font-weight="normal" font-style="normal"  class="tl">4</text>
<line x1="727.50" y1="484.10" x2="727.50" y2="477.50" stroke="#222222" stroke-width="1.1" />
<text x="727.50" y="496.60" font-family="Liberation Serif" font-size="12.5" text-anchor="middle" font-weight="normal" font-style="normal"  class="tl">6</text>
<line x1="812.20" y1="484.10" x2="812.20" y2="477.50" stroke="#222222" stroke-width="1.1" />
<text x="812.20" y="496.60" font-family="Liberation Serif" font-size="12.5" text-anchor="middle" font-weight="normal" font-style="normal"  class="tl">8</text>
<line x1="494.57" y1="484.10" x2="494.57" y2="480.10" stroke="#222222" stroke-width="1.1" />
<line x1="515.75" y1="484.10" x2="515.75" y2="480.10" stroke="#222222" stroke-width="1.1" />
<line x1="536.92" y1="484.10" x2="536.92" y2="480.10" stroke="#222222" stroke-width="1.1" />
<line x1="579.27" y1="484.10" x2="579.27" y2="480.10" stroke="#222222" stroke-width="1.1" />
<line x1="600.45" y1="484.10" x2="600.45" y2="480.10" stroke="#222222" stroke-width="1.1" />
<line x1="621.62" y1="484.10" x2="621.62" y2="480.10" stroke="#222222" stroke-width="1.1" />
<line x1="663.98" y1="484.10" x2="663.98" y2="480.10" stroke="#222222" stroke-width="1.1" />
<line x1="685.15" y1="484.10" x2="685.15" y2="480.10" stroke="#222222" stroke-width="1.1" />
<line x1="706.33" y1="484.10" x2="706.33" y2="480.10" stroke="#222222" stroke-width="1.1" />
<line x1="748.67" y1="484.10" x2="748.67" y2="480.10" stroke="#222222" stroke-width="1.1" />
<line x1="769.85" y1="484.10" x2="769.85" y2="480.10" stroke="#222222" stroke-width="1.1" />
<line x1="791.02" y1="484.10" x2="791.02" y2="480.10" stroke="#222222" stroke-width="1.1" />
<text x="731.80" y="517.40" font-family="Liberation Serif" font-size="16.5" text-anchor="start" font-weight="normal" font-style="italic" >p</text>
<text x="742.40" y="511.20" font-family="Liberation Serif" font-size="11" text-anchor="start" font-weight="normal" font-style="normal" >2</text>
<text x="742.20" y="524.00" font-family="Liberation Serif" font-size="11" text-anchor="start" font-weight="normal" font-style="italic" >T</text>
<text x="753.90" y="517.40" font-family="Liberation Serif" font-size="16.5" text-anchor="start" font-weight="normal" font-style="normal" textLength="52.6" lengthAdjust="spacingAndGlyphs">(GeV/<tspan font-style="italic">c</tspan>)</text>
<text x="807.40" y="508.60" font-family="Liberation Serif" font-size="11" text-anchor="start" font-weight="normal" font-style="normal" >2</text>
<g transform="translate(443.7,428.8) rotate(-90)">
<text x="0.00" y="0.00" font-family="Liberation Serif" font-size="17" text-anchor="start" font-weight="normal" font-style="normal" >dσ/d</text>
<text x="31.00" y="0.00" font-family="Liberation Serif" font-size="17" text-anchor="start" font-weight="normal" font-style="italic" textLength="9.9" lengthAdjust="spacingAndGlyphs">p</text>
<text x="41.80" y="-6.90" font-family="Liberation Serif" font-size="10.5" text-anchor="start" font-weight="normal" font-style="normal" >2</text>
<text x="42.00" y="7.20" font-family="Liberation Serif" font-size="10.5" text-anchor="start" font-weight="normal" font-style="italic" >T</text>
<text x="58.40" y="0.00" font-family="Liberation Serif" font-size="17" text-anchor="start" font-weight="normal" font-style="normal" textLength="82.0" lengthAdjust="spacingAndGlyphs">(nb/(GeV/<tspan font-style="italic">c</tspan>)</text>
<text x="141.00" y="-7.80" font-family="Liberation Serif" font-size="10.5" text-anchor="start" font-weight="normal" font-style="normal" >2</text>
<text x="149.20" y="-0.60" font-family="Liberation Serif" font-size="15.5" text-anchor="start" font-weight="normal" font-style="normal" >)</text>
</g>
<text x="725.50" y="331.40" font-family="Liberation Serif" font-size="14" text-anchor="start" font-weight="normal" font-style="normal" style="stroke-width:0.45px">(d)</text>
<g clip-path="url(#cd)">
<path d="M477.50,310.20 C478.75,310.92 482.08,312.87 485.00,314.50 C487.92,316.13 490.80,317.63 495.00,320.00 C499.20,322.37 505.77,326.23 510.20,328.70 C514.63,331.17 517.85,332.82 521.60,334.80 C525.35,336.78 528.08,338.33 532.70,340.60 C537.32,342.87 543.62,345.80 549.30,348.40 C554.98,351.00 561.28,353.68 566.80,356.20 C572.32,358.72 576.87,361.13 582.40,363.50 C587.93,365.87 592.57,367.62 600.00,370.40 C607.43,373.18 617.90,377.03 627.00,380.20 C636.10,383.37 644.60,385.93 654.60,389.40 C664.60,392.87 676.23,397.32 687.00,401.00 C697.77,404.68 708.20,408.17 719.20,411.50 C730.20,414.83 741.70,418.05 753.00,421.00 C764.30,423.95 781.33,427.83 787.00,429.20" fill="none" stroke="#ff0000" stroke-width="1.0" stroke-dasharray="1 1.2" stroke-linecap="butt"/>
<path d="M477.50,309.30 C478.52,310.02 481.32,312.12 483.60,313.60 C485.88,315.08 488.67,316.77 491.20,318.20 C493.73,319.63 496.27,320.90 498.80,322.20 C501.33,323.50 503.87,324.80 506.40,326.00 C508.93,327.20 511.47,328.25 514.00,329.40 C516.53,330.55 518.48,331.52 521.60,332.90 C524.72,334.28 528.80,335.93 532.70,337.70 C536.60,339.47 540.93,341.63 545.00,343.50 C549.07,345.37 552.48,347.02 557.10,348.90 C561.72,350.78 567.50,352.77 572.70,354.80 C577.90,356.83 583.75,359.23 588.30,361.10 C592.85,362.97 593.55,363.60 600.00,366.00 C606.45,368.40 617.90,372.40 627.00,375.50 C636.10,378.60 644.60,381.27 654.60,384.60 C664.60,387.93 676.23,392.10 687.00,395.50 C697.77,398.90 708.20,401.92 719.20,405.00 C730.20,408.08 741.70,411.22 753.00,414.00 C764.30,416.78 781.33,420.42 787.00,421.70" fill="none" stroke="#0000ff" stroke-width="1.35" stroke-dasharray="13.5 3.5" stroke-linecap="butt"/>
<line x1="477.40" y1="306.90" x2="485.60" y2="306.90" stroke="#0000ff" stroke-width="1.6" />
<line x1="485.60" y1="311.20" x2="495.60" y2="311.20" stroke="#0000ff" stroke-width="1.6" />
<line x1="495.00" y1="317.60" x2="507.00" y2="317.60" stroke="#0000ff" stroke-width="1.6" />
<line x1="507.00" y1="325.00" x2="518.90" y2="325.00" stroke="#0000ff" stroke-width="1.6" />
<line x1="518.90" y1="333.50" x2="533.50" y2="333.50" stroke="#0000ff" stroke-width="1.6" />
<line x1="526.20" y1="330.00" x2="526.20" y2="337.00" stroke="#0000ff" stroke-width="1.6" />
<line x1="533.60" y1="338.80" x2="550.30" y2="338.80" stroke="#0000ff" stroke-width="1.6" />
<line x1="542.00" y1="335.00" x2="542.00" y2="342.00" stroke="#0000ff" stroke-width="1.6" />
<line x1="550.30" y1="345.10" x2="569.60" y2="345.10" stroke="#0000ff" stroke-width="1.6" />
<line x1="559.70" y1="341.00" x2="559.70" y2="349.00" stroke="#0000ff" stroke-width="1.6" />
<line x1="569.60" y1="351.80" x2="591.80" y2="351.80" stroke="#0000ff" stroke-width="1.6" />
<line x1="580.70" y1="348.00" x2="580.70" y2="356.00" stroke="#0000ff" stroke-width="1.6" />
<line x1="591.60" y1="367.80" x2="616.50" y2="367.80" stroke="#0000ff" stroke-width="1.6" />
<line x1="603.90" y1="364.00" x2="603.90" y2="371.00" stroke="#0000ff" stroke-width="1.6" />
<line x1="617.50" y1="372.30" x2="646.50" y2="372.30" stroke="#0000ff" stroke-width="1.6" />
<line x1="631.30" y1="367.50" x2="631.30" y2="377.00" stroke="#0000ff" stroke-width="1.6" />
<line x1="646.50" y1="386.20" x2="678.80" y2="386.20" stroke="#0000ff" stroke-width="1.6" />
<line x1="662.70" y1="380.00" x2="662.70" y2="392.00" stroke="#0000ff" stroke-width="1.6" />
<line x1="678.80" y1="403.00" x2="717.60" y2="403.00" stroke="#0000ff" stroke-width="1.6" />
<line x1="698.90" y1="396.00" x2="698.90" y2="411.00" stroke="#0000ff" stroke-width="1.6" />
<line x1="477.40" y1="310.30" x2="485.60" y2="310.30" stroke="#ff0000" stroke-width="1.6" />
<line x1="485.60" y1="319.60" x2="495.60" y2="319.60" stroke="#ff0000" stroke-width="1.6" />
<line x1="495.00" y1="325.30" x2="507.00" y2="325.30" stroke="#ff0000" stroke-width="1.6" />
<line x1="507.00" y1="325.60" x2="518.90" y2="325.60" stroke="#ff0000" stroke-width="1.6" />
<line x1="518.90" y1="336.90" x2="533.50" y2="336.90" stroke="#ff0000" stroke-width="1.6" />
<line x1="526.20" y1="333.00" x2="526.20" y2="341.00" stroke="#ff0000" stroke-width="1.6" />
<line x1="533.60" y1="341.50" x2="550.30" y2="341.50" stroke="#ff0000" stroke-width="1.6" />
<line x1="541.50" y1="337.00" x2="541.50" y2="346.00" stroke="#ff0000" stroke-width="1.6" />
<line x1="550.30" y1="354.10" x2="569.60" y2="354.10" stroke="#ff0000" stroke-width="1.6" />
<line x1="559.70" y1="350.00" x2="559.70" y2="358.50" stroke="#ff0000" stroke-width="1.6" />
<line x1="569.60" y1="365.40" x2="591.80" y2="365.40" stroke="#ff0000" stroke-width="1.6" />
<line x1="580.70" y1="361.00" x2="580.70" y2="370.00" stroke="#ff0000" stroke-width="1.6" />
<line x1="591.60" y1="361.30" x2="616.50" y2="361.30" stroke="#ff0000" stroke-width="1.6" />
<line x1="603.90" y1="357.00" x2="603.90" y2="366.00" stroke="#ff0000" stroke-width="1.6" />
<line x1="617.50" y1="380.40" x2="646.50" y2="380.40" stroke="#ff0000" stroke-width="1.6" />
<line x1="631.30" y1="374.90" x2="631.30" y2="387.80" stroke="#ff0000" stroke-width="1.6" />
<line x1="646.50" y1="396.60" x2="678.80" y2="396.60" stroke="#ff0000" stroke-width="1.6" />
<line x1="662.70" y1="389.40" x2="662.70" y2="412.00" stroke="#ff0000" stroke-width="1.6" />
<line x1="678.80" y1="409.80" x2="717.60" y2="409.80" stroke="#ff0000" stroke-width="1.6" />
<line x1="698.90" y1="392.70" x2="698.90" y2="490.00" stroke="#ff0000" stroke-width="1.6" />
<circle cx="481.00" cy="310.30" r="2.0" fill="#fff" stroke="#ff0000" stroke-width="1.4"/>
<circle cx="490.30" cy="319.60" r="2.0" fill="#fff" stroke="#ff0000" stroke-width="1.4"/>
<circle cx="499.60" cy="325.30" r="2.0" fill="#fff" stroke="#ff0000" stroke-width="1.4"/>
<circle cx="512.90" cy="325.60" r="2.0" fill="#fff" stroke="#ff0000" stroke-width="1.4"/>
<circle cx="526.20" cy="336.90" r="2.0" fill="#fff" stroke="#ff0000" stroke-width="1.4"/>
<circle cx="541.50" cy="341.50" r="2.0" fill="#fff" stroke="#ff0000" stroke-width="1.4"/>
<circle cx="559.70" cy="354.10" r="2.0" fill="#fff" stroke="#ff0000" stroke-width="1.4"/>
<circle cx="580.70" cy="365.40" r="2.0" fill="#fff" stroke="#ff0000" stroke-width="1.4"/>
<circle cx="603.90" cy="361.30" r="2.0" fill="#fff" stroke="#ff0000" stroke-width="1.4"/>
<circle cx="631.30" cy="380.40" r="2.0" fill="#fff" stroke="#ff0000" stroke-width="1.4"/>
<circle cx="662.70" cy="396.60" r="2.0" fill="#fff" stroke="#ff0000" stroke-width="1.4"/>
<circle cx="698.90" cy="409.80" r="2.0" fill="#fff" stroke="#ff0000" stroke-width="1.4"/>
<polygon points="481.30,304.50 483.70,308.82 478.90,308.82" fill="#0000ff"/>
<polygon points="490.70,308.80 493.10,313.12 488.30,313.12" fill="#0000ff"/>
<polygon points="502.20,315.20 504.60,319.52 499.80,319.52" fill="#0000ff"/>
<polygon points="512.90,322.60 515.30,326.92 510.50,326.92" fill="#0000ff"/>
<polygon points="526.20,331.10 528.60,335.42 523.80,335.42" fill="#0000ff"/>
<polygon points="542.00,336.40 544.40,340.72 539.60,340.72" fill="#0000ff"/>
<polygon points="559.70,342.70 562.10,347.02 557.30,347.02" fill="#0000ff"/>
<polygon points="580.70,349.40 583.10,353.72 578.30,353.72" fill="#0000ff"/>
<polygon points="603.90,365.40 606.30,369.72 601.50,369.72" fill="#0000ff"/>
<polygon points="631.30,369.90 633.70,374.22 628.90,374.22" fill="#0000ff"/>
<polygon points="662.70,383.80 665.10,388.12 660.30,388.12" fill="#0000ff"/>
<circle cx="698.90" cy="409.80" r="1.5" fill="#0000ff"/>
<line x1="477.40" y1="292.00" x2="484.30" y2="292.00" stroke="#009a00" stroke-width="2.0" />
<line x1="479.30" y1="285.00" x2="479.30" y2="300.30" stroke="#009a00" stroke-width="2.0" />
<line x1="477.40" y1="291.00" x2="477.40" y2="293.00" stroke="#009a00" stroke-width="2.0" />
<line x1="484.30" y1="291.00" x2="484.30" y2="293.00" stroke="#009a00" stroke-width="2.0" />
<line x1="478.30" y1="285.00" x2="480.30" y2="285.00" stroke="#009a00" stroke-width="2.0" />
<line x1="478.30" y1="300.30" x2="480.30" y2="300.30" stroke="#009a00" stroke-width="2.0" />
<circle cx="479.30" cy="292.00" r="1.8" fill="#009a00"/>
<line x1="483.60" y1="303.20" x2="495.00" y2="303.20" stroke="#009a00" stroke-width="2.0" />
<line x1="488.60" y1="295.00" x2="488.60" y2="313.60" stroke="#009a00" stroke-width="2.0" />
<line x1="483.60" y1="302.20" x2="483.60" y2="304.20" stroke="#009a00" stroke-width="2.0" />
<line x1="495.00" y1="302.20" x2="495.00" y2="304.20" stroke="#009a00" stroke-width="2.0" />
<line x1="487.60" y1="295.00" x2="489.60" y2="295.00" stroke="#009a00" stroke-width="2.0" />
<line x1="487.60" y1="313.60" x2="489.60" y2="313.60" stroke="#009a00" stroke-width="2.0" />
<circle cx="488.60" cy="303.20" r="1.8" fill="#009a00"/>
<line x1="495.00" y1="319.60" x2="516.50" y2="319.60" stroke="#009a00" stroke-width="2.0" />
<line x1="502.70" y1="312.90" x2="502.70" y2="330.20" stroke="#009a00" stroke-width="2.0" />
<line x1="495.00" y1="318.60" x2="495.00" y2="320.60" stroke="#009a00" stroke-width="2.0" />
<line x1="516.50" y1="318.60" x2="516.50" y2="320.60" stroke="#009a00" stroke-width="2.0" />
<line x1="501.70" y1="312.90" x2="503.70" y2="312.90" stroke="#009a00" stroke-width="2.0" />
<line x1="501.70" y1="330.20" x2="503.70" y2="330.20" stroke="#009a00" stroke-width="2.0" />
<circle cx="502.70" cy="319.60" r="1.8" fill="#009a00"/>
<line x1="515.80" y1="349.70" x2="558.70" y2="349.70" stroke="#009a00" stroke-width="2.0" />
<line x1="532.50" y1="337.80" x2="532.50" y2="382.10" stroke="#009a00" stroke-width="2.0" />
<line x1="515.80" y1="348.70" x2="515.80" y2="350.70" stroke="#009a00" stroke-width="2.0" />
<line x1="558.70" y1="348.70" x2="558.70" y2="350.70" stroke="#009a00" stroke-width="2.0" />
<line x1="531.50" y1="337.80" x2="533.50" y2="337.80" stroke="#009a00" stroke-width="2.0" />
<line x1="531.50" y1="382.10" x2="533.50" y2="382.10" stroke="#009a00" stroke-width="2.0" />
<circle cx="532.50" cy="349.70" r="1.8" fill="#009a00"/>
<line x1="590.00" y1="403.30" x2="643.30" y2="403.30" stroke="#009a00" stroke-width="1.4" />
<line x1="600.00" y1="374.90" x2="600.00" y2="452.40" stroke="#009a00" stroke-width="1.4" />
<line x1="590.00" y1="402.30" x2="590.00" y2="404.30" stroke="#009a00" stroke-width="1.4" />
<line x1="643.30" y1="402.30" x2="643.30" y2="404.30" stroke="#009a00" stroke-width="1.4" />
<line x1="599.00" y1="374.90" x2="601.00" y2="374.90" stroke="#009a00" stroke-width="1.4" />
<line x1="599.00" y1="452.40" x2="601.00" y2="452.40" stroke="#009a00" stroke-width="1.4" />
<circle cx="600.00" cy="403.30" r="1.8" fill="#009a00"/>
</g>
</svg>
</body></html>
